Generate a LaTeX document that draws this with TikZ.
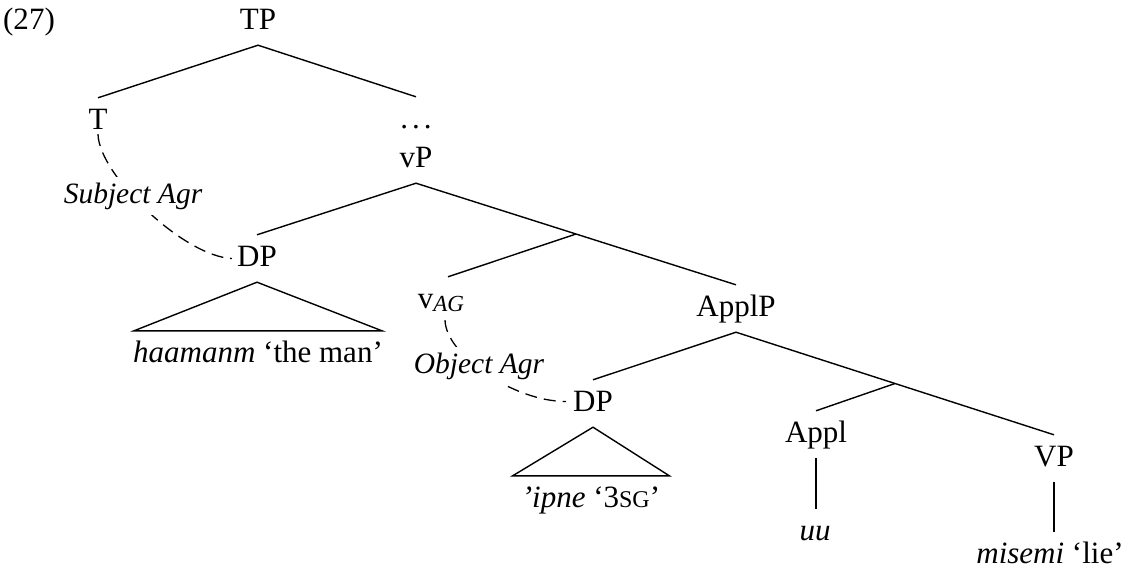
\documentclass[tikz,border=0pt]{standalone}
\usepackage{fontspec}
\setmainfont{Liberation Serif}
\usetikzlibrary{calc}
\begin{document}
\begin{tikzpicture}[x=1pt,y=-1pt,
  lab/.style={anchor=base, font=\fontsize{31}{37}\selectfont, inner xsep=0pt, inner ysep=8.5pt, text height=22.5pt, text depth=7.5pt},
  br/.style={line width=1.4pt},
  agr/.style={line width=1.3pt, dash pattern=on 12pt off 7pt},
  agrlab/.style={anchor=base, font=\fontsize{29.5}{36}\selectfont\itshape, fill=white, inner sep=6pt}]
\useasboundingbox (0,0) rectangle (1131,571);
% labels of the tree
\node[lab] (ex) at (29,29) {(27)};
\node[lab] (TP) at (258,29) {TP};
\node[lab] (T) at (98,129) {T};
\node[lab] (dots) at (416,128) {.\kern4pt.\kern4pt.};
\node[lab] (vP) at (416,167) {vP};
\node[lab] (DPa) at (257,266) {DP};
\node[lab] (vAG) at (441,308) {v\raisebox{-3pt}{\fontsize{23}{23}\selectfont\itshape AG}};
\node[lab] (ApplP) at (736,316) {ApplP};
\node[lab] (DPb) at (593,411) {DP};
\node[lab] (Appl) at (816,442) {Appl};
\node[lab] (VP) at (1054,466) {VP};
\node[lab] (uu) at (815,540) {\itshape uu};
\node[lab] (misemi) at (1050,563) {\textit{misemi} ‘lie’};
\node[lab] (haam) at (258,362) {\textit{haamanm} ‘the man’};
\node[lab] (ipne) at (591,507) {\textit{’ipne} ‘3{\fontsize{24}{24}\selectfont SG}’};
% branch points
\coordinate (b1) at ($(vP.south)!0.5!(ApplP.north)$);
\coordinate (b2) at ($(ApplP.south)!0.5!(VP.north)$);
% branches
\draw[br] (T.north) -- (TP.south) -- (dots.north);
\draw[br] (DPa.north) -- (vP.south) -- (ApplP.north);
\draw[br] (b1) -- ([xshift=7pt]vAG.north);
\draw[br] (DPb.north) -- (ApplP.south) -- (VP.north);
\draw[br] (b2) -- (Appl.north);
\draw[br] (Appl.south) -- (Appl.south |- uu.north);
\draw[br] (VP.south) -- (VP.south |- misemi.north);
% triangles
\draw[br] (DPa.south) -- ([xshift=1pt]haam.north west) -- ([xshift=-1pt]haam.north east) -- cycle;
\draw[br] (DPb.south) -- ([xshift=-9pt]ipne.north west) -- ([xshift=9pt]ipne.north east) -- cycle;
% agreement links
\draw[agr] ([yshift=11pt]T.south) .. controls +(1,41) and +(-48,-2) .. ([xshift=-5pt]DPa.west);
\draw[agr] ([xshift=4pt,yshift=4pt]vAG.south) .. controls +(1,35) and +(-52,0) .. ([xshift=-7pt,yshift=2pt]DPb.west);
\node[agrlab] (subj) at (133,203) {Subject Agr};
\node[agrlab] (obj) at (479,373) {Object Agr};
\end{tikzpicture}
\end{document}
